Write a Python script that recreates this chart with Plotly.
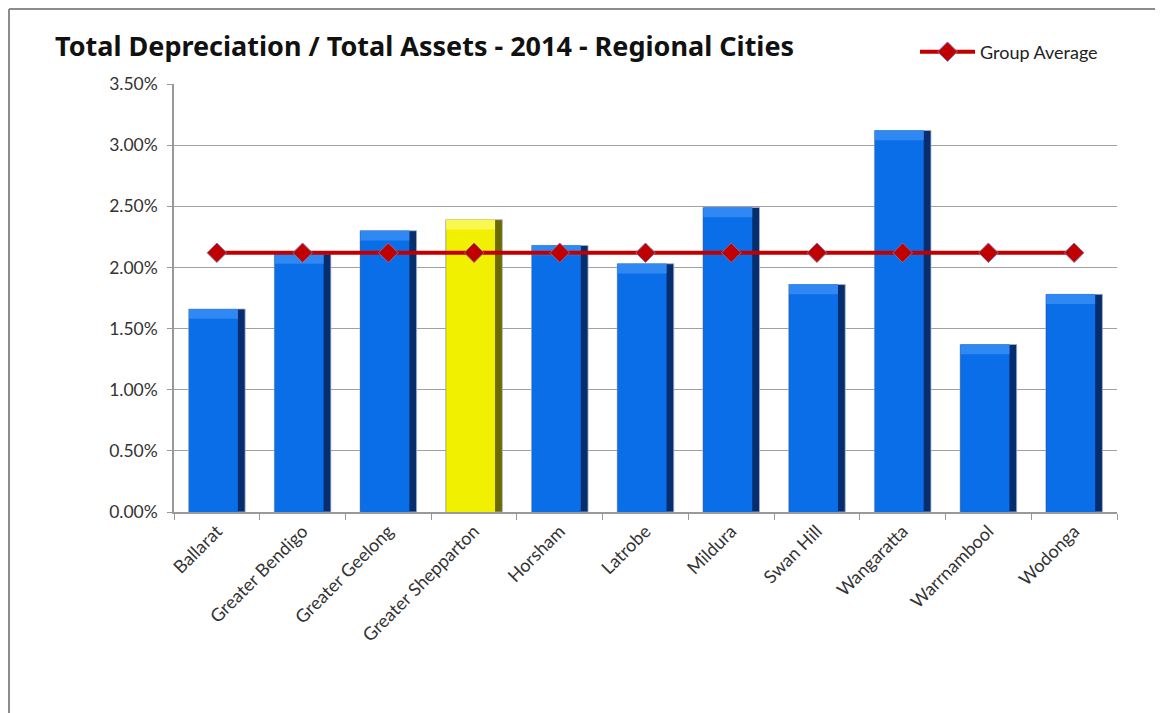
import plotly.graph_objects as go

cities = ["Ballarat", "Greater Bendigo", "Greater Geelong", "Greater Shepparton",
          "Horsham", "Latrobe", "Mildura", "Swan Hill", "Wangaratta",
          "Warrnambool", "Wodonga"]
ratio = [1.66, 2.11, 2.30, 2.39, 2.18, 2.03, 2.49, 1.86, 3.12, 1.37, 1.78]
group_avg = [2.12] * len(cities)
highlight = "Greater Shepparton"

# page body adds an 8px offset, so figure coords = screen coords - 8
W, H = 1155, 705
L, R, T, B = 166, 46, 76, 201
pw, ph = W - L - R, H - T - B


def px(x):
    return (x - L) / pw


def py(y):
    return (H - B - y) / ph


dark = ["#6A6A00" if c == highlight else "#062E6E" for c in cities]
face = ["#F0F000" if c == highlight else "#0A6EE8" for c in cities]
light = ["#F8F850" if c == highlight else "#3089F2" for c in cities]
vals = [v / 100 for v in ratio]
bevel = 0.0008

fig = go.Figure()
# darker body gives the shaded right edge of the bevelled bars
fig.add_trace(go.Bar(
    x=cities, y=vals, width=0.66,
    marker=dict(color=dark, line=dict(color="#A8B2CC", width=0.8)),
    showlegend=False, hoverinfo="skip",
))
fig.add_trace(go.Bar(
    x=cities, y=vals, width=0.57, offset=-0.325,
    marker=dict(color=face, line=dict(width=0)),
    showlegend=False,
))
# lighter strip along the top
fig.add_trace(go.Bar(
    x=cities, y=[bevel] * len(cities), base=[v - bevel for v in vals],
    width=0.57, offset=-0.325,
    marker=dict(color=light, line=dict(width=0)),
    showlegend=False, hoverinfo="skip",
))
fig.add_trace(go.Scatter(
    x=cities, y=[v / 100 for v in group_avg],
    mode="lines+markers", name="Group Average",
    line=dict(color="#C00000", width=4),
    marker=dict(symbol="diamond", size=15, color="#C00000",
                line=dict(color="#8A6A9A", width=1)),
))

frame = dict(color="#8C8C8C", width=2)
fig.update_layout(
    width=W, height=H,
    margin=dict(l=L, r=R, t=T, b=B),
    paper_bgcolor="white", plot_bgcolor="white",
    barmode="overlay",
    font=dict(family="Lato, Open Sans, sans-serif", size=17, color="#333333"),
    title=dict(text="<b>Total Depreciation / Total Assets - 2014 - Regional Cities</b>",
               x=47 / W, xref="container", xanchor="left",
               y=1 - 39 / H, yref="container", yanchor="middle",
               font=dict(family="Noto Sans, Open Sans, sans-serif", size=27, color="#111111")),
    legend=dict(x=px(907), y=py(44), xref="paper", yref="paper",
                xanchor="left", yanchor="middle", bgcolor="rgba(0,0,0,0)",
                itemwidth=55, font=dict(size=18, color="#222222")),
    xaxis=dict(range=[-0.5, len(cities) - 0.5],
               showline=True, linecolor="#999999", linewidth=1.5,
               ticks="outside", tickson="boundaries", ticklen=6, tickcolor="#999999",
               tickangle=-45, tickfont=dict(size=18, color="#333333"),
               showgrid=False),
    yaxis=dict(range=[0, 0.035], dtick=0.005, tickformat=".2%",
               showline=True, linecolor="#999999", linewidth=1.5,
               ticks="outside", ticklen=5, tickcolor="#999999",
               ticklabelstandoff=6,
               showgrid=True, gridcolor="#A0A0A0", gridwidth=1.2,
               zeroline=False, tickfont=dict(size=17.5, color="#333333")),
    shapes=[
        dict(type="line", xref="paper", yref="paper",
             x0=px(1), x1=px(1), y0=py(H), y1=py(1), line=frame),
        dict(type="line", xref="paper", yref="paper",
             x0=px(1), x1=px(W), y0=py(1), y1=py(1), line=frame),
    ],
)

fig.write_html("out.html")
